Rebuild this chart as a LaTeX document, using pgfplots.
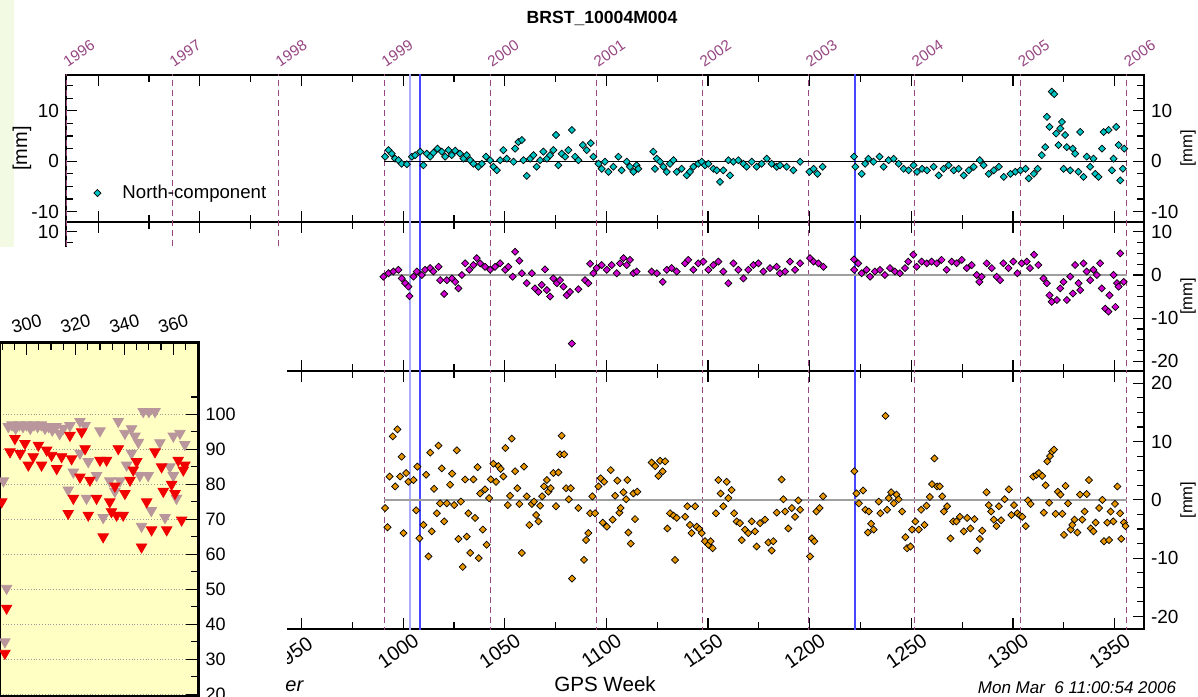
\documentclass[border=0pt]{standalone}
\usepackage{pgfplots}
\pgfplotsset{compat=1.18}
\usepackage{pgfplotstable}
\usepackage{fontspec}
\setmainfont{Liberation Sans}
\setsansfont{Liberation Sans}
\definecolor{cyanfill}{RGB}{0,196,196}
\definecolor{magfill}{RGB}{210,0,210}
\definecolor{orgfill}{RGB}{232,150,0}
\definecolor{yearcol}{RGB}{150,70,130}
\definecolor{bluel}{RGB}{70,70,255}
\definecolor{bgreen}{RGB}{242,250,228}
\definecolor{yelbg}{RGB}{255,255,196}
\definecolor{redtri}{RGB}{240,0,0}
\definecolor{graytri}{RGB}{184,150,155}

\pgfplotstableread{
w y
991.1 0.9
992.8 2.2
994.4 1.5
996.0 0.5
997.7 0.2
999.3 -0.5
1001.8 -0.6
1004.3 0.9
1005.9 1.2
1008.4 1.9
1010.0 -0.8
1011.6 1.5
1013.3 0.9
1014.9 1.7
1016.9 2.5
1019.0 1.9
1020.7 0.9
1022.3 2.2
1023.9 1.2
1025.6 2.1
1028.0 1.5
1029.7 0.5
1031.3 1.2
1033.0 0.2
1034.6 -0.5
1037.0 -1.1
1038.7 -0.5
1040.8 0.9
1042.8 0.2
1044.4 -1.1
1046.1 -1.8
1047.7 0.2
1049.3 2.2
1051.0 0.5
1054.3 -0.1
1055.1 2.5
1056.7 3.8
1058.4 4.2
1059.2 0.2
1060.8 -2.9
1062.5 0.5
1064.1 1.2
1065.7 -1.1
1067.4 0.2
1069.0 1.9
1070.7 0.5
1072.3 1.2
1073.9 2.2
1075.2 5.2
1076.4 -0.8
1078.0 1.5
1079.7 0.9
1081.3 2.2
1083.0 6.2
1084.6 0.9
1086.2 0.2
1088.4 3.2
1090.3 2.2
1092.3 3.6
1093.6 0.9
1096.1 -0.5
1097.7 -1.5
1099.3 -0.1
1101.0 -2.1
1103.4 -1.1
1105.9 0.9
1107.5 -1.8
1110.0 -0.1
1111.6 -1.1
1113.3 -2.1
1114.9 -0.8
1115.7 -1.5
1123.1 1.9
1123.9 -1.5
1124.8 0.5
1126.4 -0.1
1128.0 -1.1
1129.7 -2.1
1131.3 -0.5
1133.0 0.2
1134.6 -2.1
1137.0 -1.5
1139.5 -2.8
1141.1 -2.1
1142.8 -1.1
1145.2 -0.5
1146.9 -0.1
1148.5 -0.8
1150.2 -0.5
1152.6 -1.5
1154.3 -1.8
1155.9 -4.1
1157.5 -1.8
1160.0 0.2
1160.8 -2.8
1162.5 -0.1
1164.9 0.2
1167.4 -0.5
1169.0 -1.1
1171.5 -0.1
1173.9 -1.1
1176.4 -0.5
1178.9 0.5
1181.3 -0.5
1183.8 -1.1
1185.4 -0.8
1188.7 -1.1
1192.0 -1.8
1195.3 -0.1
1199.9 -2.1
1201.9 -1.5
1203.8 -2.5
1206.4 -1.1
1221.8 0.9
1222.5 -1.1
1225.6 -2.5
1227.3 -0.5
1228.9 0.5
1231.4 -0.1
1234.4 0.9
1236.4 -1.1
1238.8 0.2
1241.3 0.5
1243.8 -0.5
1246.2 -1.5
1248.7 -1.8
1251.1 -0.8
1252.8 -2.1
1255.3 -1.5
1257.7 -1.8
1261.0 -1.1
1263.5 -2.8
1265.9 -1.5
1268.4 -0.8
1270.9 -1.8
1273.3 -1.5
1275.8 -2.8
1278.3 -1.8
1280.7 -1.1
1283.7 0.2
1285.6 -0.8
1288.1 -2.5
1290.6 -1.8
1293.1 -1.1
1295.5 -3.1
1298.8 -2.5
1301.2 -2.1
1303.7 -1.8
1306.2 -1.5
1307.8 -3.4
1310.3 -2.5
1312.2 -1.5
1314.2 1.2
1315.9 2.8
1316.7 8.8
1318.0 6.8
1319.1 13.8
1320.3 13.3
1321.3 5.5
1322.4 3.2
1323.3 6.5
1324.1 7.8
1324.9 -1.5
1325.7 5.2
1326.5 2.8
1328.2 -1.8
1329.4 2.5
1330.6 1.5
1332.2 -2.1
1333.1 5.8
1334.7 -3.1
1336.3 0.9
1338.0 -1.1
1339.6 0.5
1340.5 -2.5
1342.1 -3.1
1343.8 2.5
1344.6 5.8
1347.1 6.2
1348.7 -1.8
1349.5 0.5
1350.8 6.8
1352.0 3.2
1352.8 -3.8
1354.1 -1.5
1354.8 2.5
}\north

\pgfplotstableread{
w y
990.3 -0.4
992.8 0.4
995.2 0.8
997.7 1.2
999.3 -0.8
1001.0 -1.9
1002.6 -2.7
1003.1 -4.9
1005.1 -0.4
1006.7 0.8
1009.2 0.0
1010.8 1.2
1013.3 1.6
1014.9 0.8
1017.4 1.9
1018.2 -1.2
1020.2 -4.4
1021.5 -1.2
1024.0 -0.8
1025.6 -1.6
1027.2 -3.1
1028.9 0.0
1030.5 2.7
1032.6 1.2
1034.6 2.3
1036.2 3.9
1037.9 2.7
1040.3 1.9
1042.8 1.2
1045.2 1.9
1047.7 2.7
1050.2 1.2
1051.8 1.9
1053.9 -0.4
1055.1 5.4
1057.2 3.3
1058.4 0.4
1060.8 -1.9
1063.3 0.4
1064.9 -3.1
1066.6 -3.9
1068.2 -2.3
1069.8 1.3
1070.7 -3.5
1072.3 -5.0
1073.9 -0.8
1075.6 -1.9
1077.2 -1.2
1078.9 -2.7
1080.5 -4.7
1082.1 -3.9
1083.0 -15.9
1086.2 -3.3
1089.5 -1.2
1091.1 -1.9
1092.0 2.6
1093.6 0.4
1095.2 1.6
1097.7 2.3
1100.2 1.2
1102.6 2.3
1105.1 0.4
1106.7 2.7
1108.4 3.9
1110.0 2.3
1111.6 3.5
1113.3 0.4
1114.9 0.8
1122.3 0.8
1124.8 0.4
1127.7 -1.6
1129.7 1.2
1132.1 1.6
1134.6 0.8
1138.7 2.7
1140.3 3.5
1142.8 1.2
1145.2 2.7
1147.7 3.1
1150.2 1.2
1152.6 2.3
1155.1 3.1
1157.5 0.8
1160.0 -1.9
1162.5 2.7
1164.9 1.2
1167.4 -0.8
1169.8 1.2
1172.3 2.3
1174.8 2.7
1177.2 0.8
1180.5 1.6
1183.8 1.9
1185.4 0.4
1187.9 0.8
1190.3 3.1
1192.8 1.2
1195.3 2.7
1200.2 3.9
1201.9 3.1
1204.3 2.7
1206.8 1.9
1221.8 3.6
1221.9 1.2
1223.9 2.7
1225.6 0.4
1228.0 1.2
1229.7 -0.4
1232.1 0.8
1234.6 1.2
1237.0 0.0
1239.5 1.6
1241.9 0.8
1244.4 0.4
1246.9 1.6
1248.5 3.1
1251.0 4.7
1252.6 1.9
1255.1 3.1
1257.6 2.7
1260.0 3.1
1262.5 2.7
1264.9 3.5
1267.4 1.2
1269.9 3.1
1272.3 2.7
1274.8 3.5
1277.3 1.6
1279.7 2.3
1282.2 0.0
1283.5 -1.6
1284.6 -0.4
1287.1 2.7
1289.6 1.6
1292.0 -0.4
1293.7 -1.2
1295.3 2.7
1297.8 1.6
1300.2 3.1
1302.2 0.4
1304.3 2.7
1306.8 3.1
1308.4 1.6
1310.4 4.7
1312.5 2.3
1315.0 -0.8
1316.7 -1.9
1318.0 -4.7
1319.1 -6.2
1321.6 -5.8
1323.3 -3.1
1324.9 -1.6
1326.5 -5.8
1328.2 -0.4
1329.5 -4.3
1330.6 2.3
1332.3 -1.9
1333.1 -3.5
1334.7 2.7
1336.3 0.8
1338.0 -1.2
1339.6 1.2
1341.3 0.0
1342.9 2.7
1343.7 -3.1
1345.4 -7.8
1347.0 -8.5
1347.5 -4.7
1349.5 0.0
1350.4 -7.4
1351.2 -1.9
1352.0 -2.7
1352.8 5.0
1354.5 -1.6
}\east

\pgfplotstableread{
w y
991.1 -1.4
992.3 -4.7
993.3 4.0
994.9 10.9
997.2 12.1
996.1 2.3
999.3 7.4
998.5 4.0
1000.2 -5.7
1001.5 4.6
1002.6 3.1
1005.1 3.4
1006.4 -1.8
1007.0 5.7
1008.0 -6.6
1010.0 -4.3
1011.3 4.3
1012.5 -9.7
1013.3 8.1
1014.1 -5.4
1015.2 1.9
1016.6 -2.3
1017.4 9.3
1018.2 -0.6
1019.0 5.4
1020.2 -3.7
1021.5 -0.6
1023.1 2.6
1024.1 4.5
1025.1 -0.9
1026.4 8.5
1027.2 -6.7
1028.4 -0.3
1029.3 -11.5
1030.5 3.5
1031.3 -6.3
1032.1 -2.3
1033.0 -9.1
1034.6 3.5
1035.4 -3.1
1036.6 5.6
1037.2 -10.0
1037.9 1.1
1039.2 -5.1
1040.3 1.8
1041.1 -7.7
1042.3 0.3
1043.1 3.5
1044.4 6.2
1045.7 3.1
1046.9 5.8
1048.0 5.3
1049.3 4.0
1050.3 8.9
1051.5 -0.9
1052.6 0.7
1053.4 10.5
1055.1 4.9
1056.2 2.0
1057.2 -0.7
1058.4 -9.1
1059.5 5.7
1060.8 0.6
1062.1 -4.3
1063.3 -0.7
1064.4 -0.3
1065.4 -2.6
1066.6 -3.7
1067.4 -1.0
1068.4 0.6
1069.3 2.3
1070.7 3.4
1071.5 1.4
1072.6 2.0
1073.9 4.6
1075.2 -1.1
1076.4 4.7
1077.2 7.8
1078.0 11.0
1079.2 7.8
1080.2 2.0
1081.5 0.1
1082.5 2.0
1083.1 -13.5
1086.2 -1.4
1089.0 -10.3
1090.0 -6.9
1091.1 -5.7
1092.0 -2.3
1093.1 0.6
1094.4 -2.3
1096.1 2.3
1097.2 3.7
1098.9 3.1
1098.2 -3.9
1100.2 -4.6
1102.1 5.1
1103.1 -3.4
1104.3 0.7
1105.4 3.3
1106.4 -2.2
1107.0 -1.4
1108.4 1.3
1109.7 0.1
1110.3 3.4
1110.8 -5.6
1112.0 -7.5
1113.3 1.1
1114.1 -3.3
1115.2 1.4
1122.3 6.4
1124.0 5.8
1125.6 4.1
1126.4 6.7
1127.7 4.9
1128.9 6.6
1130.0 -4.9
1131.3 -2.3
1133.0 -2.7
1133.8 -10.3
1134.6 -3.1
1138.7 -2.9
1139.8 -1.1
1141.1 -4.3
1141.9 -5.7
1143.6 -1.1
1144.4 -4.6
1145.7 -5.0
1146.9 -5.7
1148.5 -7.1
1150.2 -7.7
1151.3 -7.1
1152.3 -8.3
1153.9 -2.3
1155.1 3.4
1156.2 1.1
1157.5 -1.1
1159.2 3.1
1160.0 0.3
1161.6 1.7
1162.8 -2.3
1164.1 -3.7
1165.7 -4.0
1166.6 -6.9
1168.2 -5.1
1169.8 -5.7
1171.5 -3.7
1173.1 -5.4
1173.9 -8.0
1175.6 -4.0
1178.0 -3.4
1179.7 -7.3
1181.3 -8.7
1182.1 -7.1
1183.8 -2.2
1186.2 3.5
1187.1 0.1
1187.9 -2.0
1189.5 -4.9
1191.2 -1.4
1192.8 -2.9
1194.4 -0.1
1195.3 -1.7
1200.2 -9.7
1201.1 -6.6
1202.3 -7.1
1203.3 -2.0
1204.9 -1.4
1206.6 0.6
1222.0 4.9
1223.0 1.1
1224.2 -0.6
1226.3 1.6
1227.4 -1.7
1229.1 -2.0
1228.6 -5.6
1230.2 -4.1
1231.5 -5.1
1234.0 -0.3
1234.8 -2.3
1237.3 14.4
1238.1 -1.7
1238.9 0.3
1240.1 1.3
1241.4 -0.6
1242.7 0.9
1243.8 0.1
1245.5 -2.0
1247.1 -6.4
1247.9 -8.3
1249.6 -8.0
1250.4 -5.1
1252.0 -3.7
1253.7 -5.1
1254.8 -1.7
1256.5 -4.3
1257.5 -1.0
1259.1 0.5
1260.2 2.7
1261.4 7.1
1262.7 2.3
1264.0 2.3
1265.2 0.6
1266.0 -2.0
1267.6 -1.1
1269.3 -6.6
1270.6 -3.7
1272.2 -3.7
1273.9 -2.9
1275.8 -5.4
1277.5 -3.1
1279.1 -4.9
1281.1 -3.3
1282.4 -8.7
1283.7 -6.7
1284.9 -5.3
1287.0 1.3
1288.1 -0.9
1289.3 -2.0
1290.6 -3.4
1291.9 -4.5
1293.1 -1.1
1294.2 -3.5
1295.9 0.1
1298.0 1.8
1299.2 -2.6
1300.5 -0.9
1302.2 -2.3
1303.5 -2.7
1304.6 -2.9
1306.3 -4.5
1307.4 -0.1
1308.7 -0.7
1310.0 4.0
1311.6 4.3
1312.8 4.6
1314.4 4.1
1316.1 2.5
1316.9 6.6
1318.2 7.5
1319.3 8.3
1320.2 8.6
1315.2 -2.2
1317.8 -0.5
1321.0 -2.4
1322.1 1.4
1323.4 0.9
1324.3 -2.4
1325.1 -6.0
1325.9 2.4
1327.1 -0.6
1328.4 -5.1
1329.2 -4.3
1330.3 -3.4
1331.7 -5.6
1333.0 0.9
1334.1 -3.4
1335.3 -2.0
1336.3 1.0
1337.4 3.4
1338.3 -4.9
1339.6 -5.4
1340.7 -3.9
1342.4 -1.4
1344.0 0.0
1344.8 -7.1
1346.4 -3.9
1347.3 -6.9
1348.1 -2.0
1349.4 -3.7
1350.2 -0.7
1351.4 2.3
1352.7 -2.3
1353.3 -6.7
1354.6 -3.9
1355.4 -4.5
}\up

\pgfplotstableread{
x y
290.5 81.0
291.8 50.3
291.1 35.0
292.5 96.5
294.0 97.0
295.5 96.0
297.0 97.0
298.5 96.5
300.0 97.0
301.5 96.0
303.0 97.0
304.5 96.5
306.0 97.0
307.5 96.0
309.0 96.5
310.5 95.5
312.0 96.5
313.5 94.5
315.0 96.0
317.7 96.8
321.8 98.0
323.9 96.8
330.0 95.3
337.5 98.0
340.2 94.6
342.9 95.9
344.3 93.8
345.7 92.0
347.7 100.8
350.0 100.8
352.5 100.8
354.5 91.9
360.0 93.8
362.7 94.6
364.7 91.4
317.0 78.4
319.1 83.5
321.8 88.9
325.2 86.5
324.5 76.0
328.6 82.5
331.3 70.5
334.0 81.0
336.1 78.0
338.2 81.0
340.9 85.5
342.9 88.9
346.3 82.5
349.7 82.5
351.0 72.5
347.0 68.0
356.6 70.5
358.6 85.0
360.0 82.5
361.3 76.0
}\graytab

\pgfplotstableread{
x y
289.8 75.0
291.8 44.6
291.1 31.7
295.2 93.1
293.2 89.3
297.3 88.8
299.3 91.7
300.7 85.5
302.7 87.9
304.8 91.2
306.1 85.5
308.2 89.8
310.2 88.3
312.3 84.5
314.3 87.9
317.7 94.0
322.5 95.0
318.4 87.3
321.8 82.1
323.9 90.2
325.9 81.2
317.0 71.7
319.1 76.0
325.2 71.2
328.6 76.0
330.0 86.9
332.7 86.9
331.3 65.0
334.0 75.0
334.7 72.2
336.8 71.2
339.5 71.2
336.1 79.5
337.5 90.2
340.2 77.4
342.3 81.2
343.6 84.1
345.0 86.5
347.0 62.1
349.1 75.0
351.1 67.0
352.5 89.3
355.2 85.0
355.9 78.0
357.3 67.0
359.3 80.0
360.7 77.4
362.0 86.9
363.4 69.8
364.1 84.1
364.7 85.5
}\redtab

\pgfplotsset{
  panel/.style={
    scale only axis, width=539pt,
    xmin=834.14, xmax=1364.5,
    xtick={850,900,...,1350}, minor xtick={875,925,...,1325},
    xticklabels={},
    tick align=inside,
    major tick length=5.5pt, minor tick length=3.5pt,
    tick style={black, line width=0.6pt},
    axis line style={line width=1.2pt},
    tick label style={font=\fontsize{9.5}{10}\selectfont},
    /pgf/number format/assume math mode=true,
    /pgf/number format/1000 sep={},
    ylabel={[mm]},
    ylabel style={font=\fontsize{8.3}{9}\selectfont},
  },
  ghost/.style={
    scale only axis, width=539pt,
    xmin=834.14, xmax=1364.5, xtick=\empty,
    axis line style={draw=none}, tick style={draw=none},
    ytick pos=right, yticklabel pos=right,
    tick label style={font=\fontsize{9.5}{10}\selectfont},
    /pgf/number format/assume math mode=true,
    ylabel={[mm]},
    every axis y label/.style={at={(axis description cs:1.0408,0.5)}, anchor=center, rotate=90, font=\fontsize{8.3}{9}\selectfont},
  },
  leftlab/.style={every axis y label/.style={at={(axis description cs:-0.0408,0.5)}, anchor=center, rotate=90}},
  yearline/.style={dashed, yearcol, line width=0.6pt, forget plot, dash pattern=on 3pt off 2pt},
  bline/.style={bluel, line width=0.8pt, forget plot},
  dmark/.style={only marks, mark=square*, mark size=1.25pt, mark options={rotate=45, draw=black, line width=0.35pt, fill=#1}},
}

\newcommand{\yearlines}{%
  \pgfplotsinvokeforeach{834.14,886.43,938.57,990.71,1042.86,1095.14,1147.29,1199.43,1251.57,1303.86,1356}{%
    \addplot[yearline] coordinates {(##1,-100) (##1,100)};}%
  \addplot[bluel!45, line width=1.4pt, forget plot] coordinates {(1003.4,-100) (1003.4,100)};
  \addplot[bline] coordinates {(1008.4,-100) (1008.4,100)};
  \addplot[bline] coordinates {(1222.4,-100) (1222.4,100)};
}

\begin{document}
\begin{tikzpicture}
\clip (0,0) rectangle (599pt,348pt);
\fill[white] (0,0) rectangle (599pt,348pt);
\fill[bgreen] (0,224.5pt) rectangle (7pt,348pt);

\node[font=\bfseries\fontsize{8.8}{10}\selectfont] at (301pt,339pt) {BRST\_10004M004};

% ---------- top panel ----------
\begin{axis}[panel, leftlab, at={(33pt,237pt)}, anchor=south west, height=73.5pt,
  ymin=-12.05, ymax=17.1, ytick={-10,0,10}, minor ytick={-7.5,-5,-2.5,2.5,5,7.5,12.5,15},
  xticklabel pos=upper,
  extra x ticks={834.14,886.43,938.57,990.71,1042.86,1095.14,1147.29,1199.43,1251.57,1303.86,1356},
  extra x tick labels={1996,1997,1998,1999,2000,2001,2002,2003,2004,2005,2006},
  extra x tick style={major tick length=0pt, tick style={draw=none},
    tick label style={anchor=south west, xshift=0pt, yshift=-1pt, rotate=34, text=yearcol, font=\fontsize{7.6}{8}\selectfont}},
  legend style={at={(axis description cs:0.0255,0.197)}, anchor=west, draw=none, fill=none, inner sep=0pt,
    font=\fontsize{9.3}{10}\selectfont},
  legend cell align=left,
  legend image code/.code={\draw[#1] plot coordinates {(0pt,0pt)}; \path[draw=none, fill=none] (-1.8pt,0pt) rectangle (10.5pt,0.1pt);},
]
\yearlines
\addplot[black, line width=0.5pt, forget plot] coordinates {(990.7,0) (1356,0)};
\addplot[dmark=cyanfill] table {\north};
\addlegendentry{North-component}
\end{axis}
\begin{axis}[ghost, at={(33pt,237pt)}, anchor=south west, height=73.5pt,
  ymin=-12.05, ymax=17.1, ytick={-10,0,10}]
\end{axis}

% ---------- middle panel ----------
\begin{axis}[panel, leftlab, at={(33pt,162.5pt)}, anchor=south west, height=74.5pt,
  ymin=-22.25, ymax=12.28, ytick={-20,-10,0,10},
  minor ytick={-17.5,-15,-12.5,-7.5,-5,-2.5,2.5,5,7.5},
]
\yearlines
\addplot[gray!75, line width=1.3pt, forget plot] coordinates {(990.7,0) (1356,0)};
\addplot[dmark=magfill] table {\east};
\end{axis}
\begin{axis}[ghost, at={(33pt,162.5pt)}, anchor=south west, height=74.5pt,
  ymin=-22.25, ymax=12.28, ytick={-20,-10,0,10}]
\end{axis}

% ---------- bottom panel ----------
\begin{axis}[panel, leftlab, at={(33pt,33.35pt)}, anchor=south west, height=129.15pt,
  ymin=-22.2, ymax=22.1, ytick={-20,-10,0,10,20},
  minor ytick={-17.5,-15,-12.5,-7.5,-5,-2.5,2.5,5,7.5,12.5,15,17.5},
  xticklabels={850,900,950,1000,1050,1100,1150,1200,1250,1300,1350},
  xticklabel style={anchor=center, yshift=-10.8pt, xshift=-2.5pt, rotate=35, font=\fontsize{10}{11}\selectfont},
  xlabel={GPS Week},
  xlabel style={at={(axis description cs:0.5,0)}, anchor=center, yshift=-27.3pt, font=\fontsize{10.3}{11}\selectfont},
]
\yearlines
\addplot[gray!75, line width=1.3pt, forget plot] coordinates {(990.7,0) (1356,0)};
\addplot[dmark=orgfill] table {\up};
\end{axis}
\begin{axis}[ghost, at={(33pt,33.35pt)}, anchor=south west, height=129.15pt,
  ymin=-22.2, ymax=22.1, ytick={-20,-10,0,10,20}]
\end{axis}

\node[font=\itshape\fontsize{8.5}{9}\selectfont] at (538.5pt,4pt) {Mon Mar\ \ 6 11:00:54 2006};

% ---------- overlapping window ----------
\fill[white] (0,0) rectangle (143.25pt,224.5pt);
\node[font=\itshape\fontsize{10}{11}\selectfont, anchor=west, inner sep=0pt] at (142.5pt,5pt) {er};

\begin{axis}[at={(0pt,0pt)}, anchor=south west, scale only axis, width=99.25pt, height=176.65pt,
  xmin=289.1, xmax=370.3, ymin=19.5, ymax=120.5,
  axis background/.style={fill=yelbg},
  axis line style={line width=1.2pt},
  tick align=inside, tick style={black, line width=0.6pt},
  major tick length=6pt, minor tick length=3.5pt,
  xtick={300,320,340,360}, minor xtick={290,295,305,310,315,325,330,335,345,350,355,365,370},
  xtick pos=right, xticklabel pos=right,
  ytick={20,30,...,100}, minor ytick={25,35,...,105},
  ytick pos=right, yticklabel pos=right,
  ymajorgrids, major grid style={densely dotted, gray!80, line width=0.6pt},
  tick label style={font=\fontsize{9}{10}\selectfont},
  xticklabel style={rotate=15},
  /pgf/number format/assume math mode=true,
]
\addplot[only marks, mark=triangle*, mark size=3pt, mark options={rotate=180, fill=graytri, draw=graytri}] table {\graytab};
\addplot[only marks, mark=triangle*, mark size=3pt, mark options={rotate=180, fill=redtri, draw=redtri}] table {\redtab};
\end{axis}
\end{tikzpicture}
\end{document}
